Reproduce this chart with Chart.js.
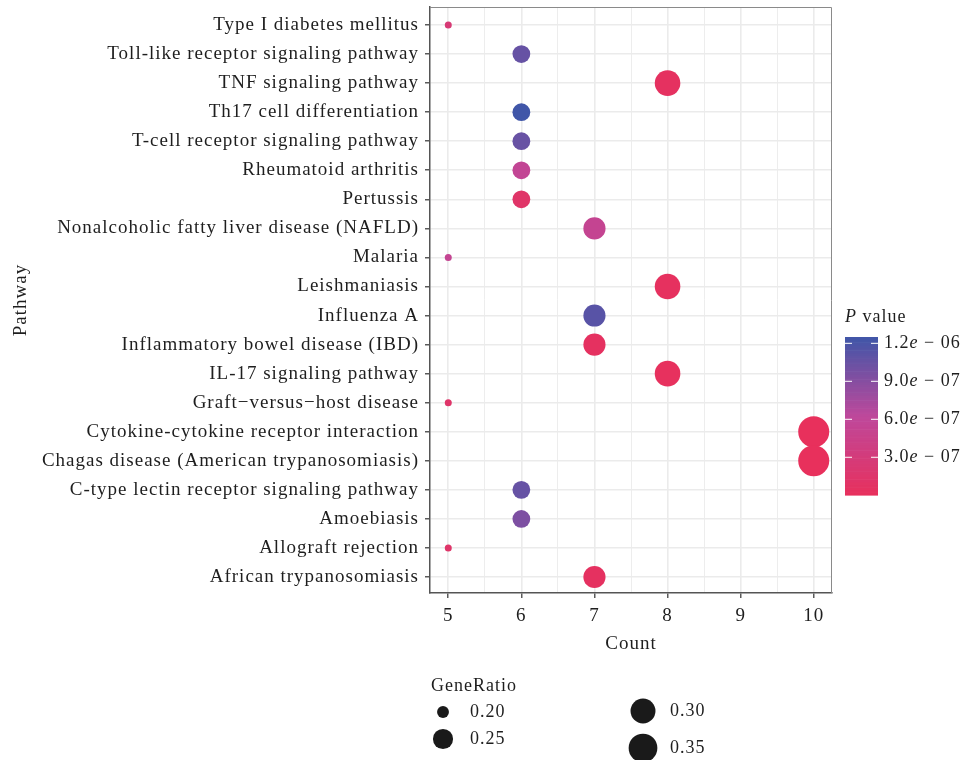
<!DOCTYPE html>
<html>
<head>
<meta charset="utf-8">
<script src="https://cdn.jsdelivr.net/npm/chart.js@4.4.1/dist/chart.umd.min.js"></script>
<style>
  body { margin: 0; background: #fff; }
  #wrap { width: 963px; height: 760px; }
</style>
</head>
<body>
<div id="wrap"><canvas id="dotChart"></canvas></div>
<script>
// KEGG pathways, top to bottom as drawn
const pathways = [
  'Type I diabetes mellitus',
  'Toll-like receptor signaling pathway',
  'TNF signaling pathway',
  'Th17 cell differentiation',
  'T-cell receptor signaling pathway',
  'Rheumatoid arthritis',
  'Pertussis',
  'Nonalcoholic fatty liver disease (NAFLD)',
  'Malaria',
  'Leishmaniasis',
  'Influenza A',
  'Inflammatory bowel disease (IBD)',
  'IL-17 signaling pathway',
  'Graft\u2212versus\u2212host disease',
  'Cytokine-cytokine receptor interaction',
  'Chagas disease (American trypanosomiasis)',
  'C-type lectin receptor signaling pathway',
  'Amoebiasis',
  'Allograft rejection',
  'African trypanosomiasis'
];
const counts = [5, 6, 8, 6, 6, 6, 6, 7, 5, 8, 7, 7, 8, 5, 10, 10, 6, 6, 5, 7];
const geneRatios = [0.192, 0.231, 0.308, 0.231, 0.231, 0.231, 0.231, 0.269, 0.192, 0.308,
                    0.269, 0.269, 0.308, 0.192, 0.385, 0.385, 0.231, 0.231, 0.192, 0.269];
const pValues = [2.5e-7, 1.06e-6, 4e-8, 1.25e-6, 1.05e-6, 5.6e-7, 1.2e-7, 5.3e-7, 5.4e-7, 3e-8,
                 1.13e-6, 4e-8, 2e-8, 1.3e-7, 2e-9, 5e-9, 1.06e-6, 9.5e-7, 1.3e-7, 4e-8];

const countTicks = [5, 6, 7, 8, 9, 10];
const pTicks = [3e-7, 6e-7, 9e-7, 1.2e-6];
const pTickLabels = [['3.0', '07'], ['6.0', '07'], ['9.0', '07'], ['1.2', '06']];
const ratioBreaks = [0.20, 0.25, 0.30, 0.35];
const ratioLabels = ['0.20', '0.25', '0.30', '0.35'];

const serif = "'Liberation Serif', 'DejaVu Serif', serif";
const textColor = '#1e1e1e';
const spacing = '1px';

// colour scale low -> high (three stops, linear between)
const colorStops = [[232, 48, 92], [190, 72, 155], [64, 86, 168]];
const pMin = Math.min(...pValues), pMax = Math.max(...pValues);

function pColor(p) {
  const t = Math.max(0, Math.min(1, (p - pMin) / (pMax - pMin)));
  const seg = t < 0.5 ? 0 : 1;
  const u = t < 0.5 ? t / 0.5 : (t - 0.5) / 0.5;
  const a = colorStops[seg], b = colorStops[seg + 1];
  return 'rgb(' + a.map((v, i) => Math.round(v + (b[i] - v) * u)).join(',') + ')';
}

// point size: area scale like scale_size()
const rMin = 3.5, rMax = 15.5;
const gMin = Math.min(...geneRatios), gMax = Math.max(...geneRatios);
function ratioRadius(g) {
  const t = Math.max(0, (g - gMin) / (gMax - gMin));
  return rMin + (rMax - rMin) * Math.sqrt(t);
}

// x grid: majors on integers plus minors in between
const xGrid = [];
for (let i = 0; i < countTicks.length; i++) {
  xGrid.push(countTicks[i]);
  if (i < countTicks.length - 1) xGrid.push((countTicks[i] + countTicks[i + 1]) / 2);
}

// big bubbles should not push the panel inwards
const ScatterController = Chart.registry.getController('scatter');
ScatterController.prototype.getMaxOverflow = function () { return 0; };

const legendPlugin = {
  id: 'ggLegends',
  beforeLayout(chart) { chart.ctx.letterSpacing = spacing; },
  beforeDraw(chart) { chart.ctx.letterSpacing = spacing; },
  afterDraw(chart) {
    const ctx = chart.ctx;
    const area = chart.chartArea;
    ctx.save();
    ctx.letterSpacing = spacing;

    // panel border (top/right)
    ctx.strokeStyle = '#8a8a8a';
    ctx.lineWidth = 1;
    ctx.beginPath();
    ctx.moveTo(area.left, area.top + 0.5);
    ctx.lineTo(area.right - 0.5, area.top + 0.5);
    ctx.lineTo(area.right - 0.5, area.bottom);
    ctx.stroke();

    // colour bar
    const barX = 845, barW = 33, barTop = 337, barBottom = 495;
    const steps = 60;
    for (let i = 0; i < steps; i++) {
      const p = pMin + (pMax - pMin) * (i + 0.5) / steps;
      ctx.fillStyle = pColor(p);
      const y0 = barBottom - (barBottom - barTop) * (i + 1) / steps;
      ctx.fillRect(barX, y0, barW, (barBottom - barTop) / steps + 0.6);
    }
    ctx.font = 'italic 18px ' + serif;
    ctx.fillStyle = textColor;
    ctx.textBaseline = 'middle';
    ctx.textAlign = 'left';
    ctx.fillText('P', 845, 317);
    const pw = ctx.measureText('P').width;
    ctx.font = '18px ' + serif;
    ctx.fillText(' value', 845 + pw, 317);

    pTicks.forEach((v, i) => {
      const y = barBottom - (v - pMin) / (pMax - pMin) * (barBottom - barTop);
      ctx.strokeStyle = '#fff';
      ctx.lineWidth = 1;
      ctx.beginPath();
      ctx.moveTo(barX, y); ctx.lineTo(barX + 7, y);
      ctx.moveTo(barX + barW - 7, y); ctx.lineTo(barX + barW, y);
      ctx.stroke();
      let x = 884;
      ctx.font = '18px ' + serif;
      ctx.fillText(pTickLabels[i][0], x, y);
      x += ctx.measureText(pTickLabels[i][0]).width;
      ctx.font = 'italic 18px ' + serif;
      ctx.fillText('e', x, y);
      x += ctx.measureText('e').width;
      ctx.font = '18px ' + serif;
      ctx.fillText(' \u2212 ' + pTickLabels[i][1], x, y);
    });

    // GeneRatio size legend
    ctx.fillStyle = textColor;
    ctx.font = '18px ' + serif;
    ctx.fillText('GeneRatio', 431, 686);
    const keyPos = [[443, 712], [443, 739], [643, 711], [643, 748]];
    ratioBreaks.forEach((g, i) => {
      const [cx, cy] = keyPos[i];
      ctx.fillStyle = '#1a1a1a';
      ctx.beginPath();
      ctx.arc(cx, cy, ratioRadius(g), 0, Math.PI * 2);
      ctx.fill();
      ctx.fillStyle = textColor;
      ctx.fillText(ratioLabels[i], cx + 27, cy);
    });
    ctx.restore();
  }
};

const tickFont = { family: serif, size: 19 };

new Chart(document.getElementById('dotChart'), {
  type: 'scatter',
  data: {
    datasets: [{
      data: pathways.map((p, i) => ({ x: counts[i], y: i })),
      pointRadius: geneRatios.map(ratioRadius),
      pointHoverRadius: geneRatios.map(ratioRadius),
      pointBackgroundColor: pValues.map(pColor),
      pointBorderWidth: 0,
      clip: false
    }]
  },
  options: {
    responsive: true,
    maintainAspectRatio: false,
    animation: false,
    layout: { autoPadding: false, padding: { left: 8, right: 131, top: 7, bottom: 105 } },
    plugins: { legend: { display: false }, tooltip: { enabled: false } },
    scales: {
      x: {
        type: 'linear',
        min: 4.75,
        max: 10.25,
        afterBuildTicks: s => { s.ticks = xGrid.map(v => ({ value: v })); },
        afterFit: s => { s.height = 62; },
        ticks: {
          autoSkip: false,
          maxRotation: 0,
          padding: 7,
          color: textColor,
          font: tickFont,
          callback: v => Number.isInteger(v) ? String(v) : ''
        },
        grid: {
          color: '#ebebeb',
          lineWidth: c => (c.tick && Number.isInteger(c.tick.value)) ? 1.6 : 0.9,
          tickColor: c => (c.tick && Number.isInteger(c.tick.value)) ? '#333' : 'rgba(0,0,0,0)',
          tickLength: 5,
          tickWidth: 1.2
        },
        border: { color: '#555', width: 1.5 },
        title: { display: true, text: 'Count', color: textColor, font: { family: serif, size: 19 }, padding: { top: 4, bottom: 0 } }
      },
      y: {
        type: 'linear',
        reverse: true,
        min: -0.62,
        max: pathways.length - 0.45,
        afterBuildTicks: s => { s.ticks = pathways.map((_, i) => ({ value: i })); },
        afterFit: s => { s.width = 422; s.paddingTop = 0; s.paddingBottom = 0; },
        ticks: {
          autoSkip: false,
          padding: 6,
          color: textColor,
          font: tickFont,
          callback: v => pathways[v]
        },
        grid: {
          color: '#ebebeb',
          lineWidth: 1.6,
          tickColor: '#333',
          tickLength: 5,
          tickWidth: 1.2
        },
        border: { color: '#555', width: 1.5 },
        title: { display: true, text: 'Pathway', color: textColor, font: { family: serif, size: 19 }, padding: { top: 2, bottom: 0 } }
      }
    }
  },
  plugins: [legendPlugin]
});
</script>
</body>
</html>
